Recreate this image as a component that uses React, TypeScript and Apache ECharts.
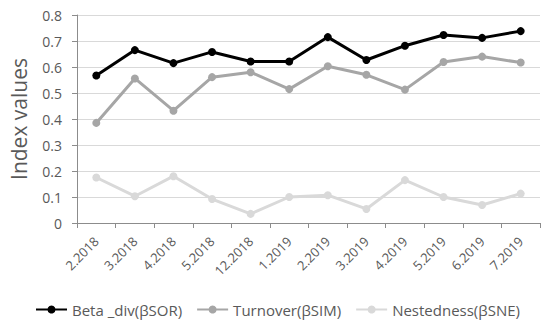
import React, { useEffect, useRef } from "react";
import * as echarts from "echarts";

const categories = ["2.2018", "3.2018", "4.2018", "5.2018", "12.2018", "1.2019", "2.2019", "3.2019", "4.2019", "5.2019", "6.2019", "7.2019"];
const betaDiv = [0.567, 0.665, 0.615, 0.658, 0.621, 0.621, 0.715, 0.627, 0.682, 0.723, 0.712, 0.738];
const turnover = [0.385, 0.556, 0.432, 0.561, 0.58, 0.515, 0.603, 0.57, 0.513, 0.619, 0.64, 0.617];
const nestedness = [0.175, 0.103, 0.18, 0.092, 0.035, 0.1, 0.107, 0.054, 0.165, 0.1, 0.069, 0.113];
const yTicks = { min: 0, max: 0.8, interval: 0.1 };

const FONT = "'Open Sans', 'Noto Sans', sans-serif";

export default function App() {
  const ref = useRef<HTMLDivElement>(null);
  useEffect(() => {
    if (!ref.current) return;
    const chart = echarts.init(ref.current, undefined, { renderer: "svg" });
    const mk = (name: string, data: number[], color: string) => ({
      name,
      type: "line",
      data,
      symbol: "circle",
      symbolSize: 8,
      lineStyle: { color, width: 3 },
      itemStyle: { color },
      z: 3,
    });
    chart.setOption({
      animation: false,
      backgroundColor: "#ffffff",
      textStyle: { fontFamily: FONT },
      grid: { left: 72, right: 10, top: 15, bottom: 100 },
      legend: {
        top: 297,
        left: 30,
        itemWidth: 31,
        itemHeight: 10,
        itemGap: 14,
        textStyle: { color: "#595959", fontSize: 15, fontFamily: FONT },
        data: ["Beta _div(βSOR)", "Turnover(βSIM)", "Nestedness(βSNE)"],
      },
      xAxis: {
        type: "category",
        data: categories,
        boundaryGap: true,
        axisLine: { lineStyle: { color: "#8c8c8c", width: 1 } },
        axisTick: { show: true, length: 5, lineStyle: { color: "#8c8c8c" } },
        axisLabel: { rotate: 45, color: "#595959", fontSize: 13, margin: 16, interval: 0, fontFamily: FONT },
      },
      yAxis: {
        type: "value",
        min: yTicks.min,
        max: yTicks.max,
        interval: yTicks.interval,
        name: "Index values",
        nameLocation: "middle",
        nameGap: 48,
        nameTextStyle: { color: "#595959", fontSize: 21, fontFamily: FONT },
        axisLine: { show: true, lineStyle: { color: "#8c8c8c", width: 1 } },
        axisTick: { show: true, length: 5, lineStyle: { color: "#8c8c8c" } },
        splitLine: { lineStyle: { color: "#d9d9d9", width: 1 } },
        axisLabel: {
          color: "#595959",
          fontSize: 14,
          margin: 15,
          fontFamily: FONT,
          formatter: (v: number) => (v === 0 ? "0" : String(Math.round(v * 10) / 10)),
        },
      },
      series: [
        mk("Beta _div(βSOR)", betaDiv, "#000000"),
        mk("Turnover(βSIM)", turnover, "#a6a6a6"),
        mk("Nestedness(βSNE)", nestedness, "#d9d9d9"),
      ],
    });
    return () => chart.dispose();
  }, []);
  return (
    <div
      ref={ref}
      style={{ position: "fixed", left: 0, top: 0, width: 550, height: 323, background: "#fff" }}
    />
  );
}
